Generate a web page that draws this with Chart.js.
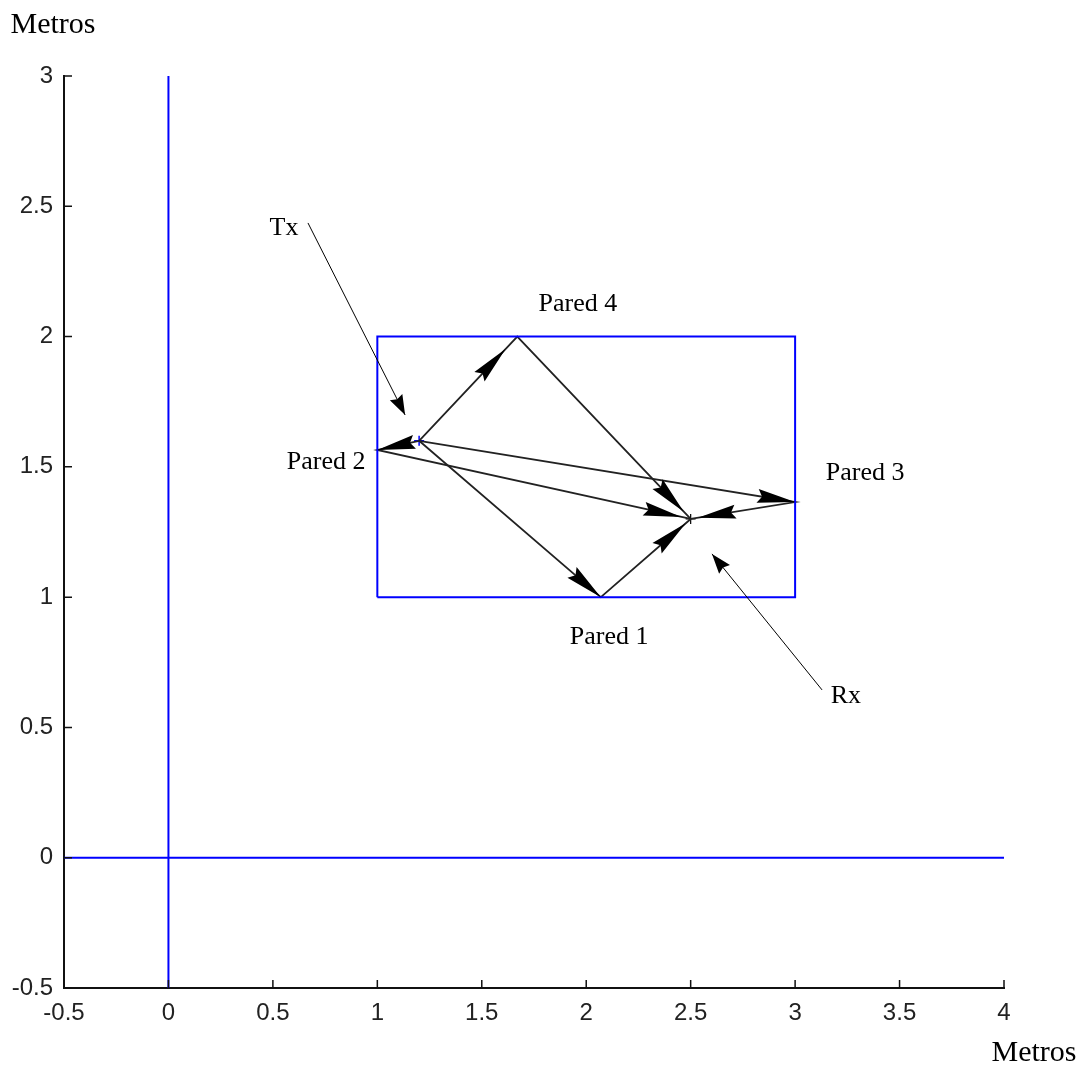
<!DOCTYPE html>
<html>
<head>
<meta charset="utf-8">
<script src="https://cdn.jsdelivr.net/npm/chart.js@4/dist/chart.umd.min.js"></script>
<style>
  html, body { margin: 0; background: #fff; }
</style>
</head>
<body>
<canvas id="c" width="1088" height="1066"></canvas>
<script>
// ---- datos ----
const xTicks = [-0.5, 0, 0.5, 1, 1.5, 2, 2.5, 3, 3.5, 4];
const yTicks = [-0.5, 0, 0.5, 1, 1.5, 2, 2.5, 3];

const salaX = [1, 3, 3, 1, 1];
const salaY = [1, 1, 2, 2, 1];

const txPos = [1.2, 1.6];
const rxPos = [2.5, 1.3];

const paredNombres = ['Pared 1', 'Pared 2', 'Pared 3', 'Pared 4'];
const reboteX = [2.07, 1.0, 3.0, 1.67];
const reboteY = [1.0, 1.565, 1.365, 2.0];
// fracción del tramo donde queda la punta de cada flecha
const flechaIda = [1.0, 1.0, 1.0, 0.88];
const flechaVuelta = [0.945, 0.97, 0.93, 0.96];
const etiquetaX = [2.11, 0.755, 3.335, 1.96];
const etiquetaY = [0.847, 1.519, 1.476, 2.125];

const notaTexto = ['Tx', 'Rx'];
const notaTextoX = [0.553, 3.243];
const notaTextoY = [2.417, 0.621];
const notaDesdeX = [0.668, 3.129];
const notaDesdeY = [2.436, 0.644];
const notaHastaX = [1.133, 2.602];
const notaHastaY = [1.699, 1.166];

const AZUL = '#0000ff';
const RAYO = '#222';
const SERIF = "'Liberation Serif', 'Times New Roman', serif";

const pts = (xs, ys) => xs.map((v, i) => ({ x: v, y: ys[i] }));

const linea = (data, color, w) => ({
  data, showLine: true, borderColor: color, borderWidth: w,
  pointRadius: 0, pointHoverRadius: 0, fill: false, tension: 0
});

const datasets = [
  linea(pts([0, 0], [-0.5, 3]), AZUL, 2),
  linea(pts([-0.5, 4], [0, 0]), AZUL, 2),
  linea(pts(salaX, salaY), AZUL, 2),
];
reboteX.forEach((bx, i) => {
  datasets.push(linea(pts([txPos[0], bx, rxPos[0]], [txPos[1], reboteY[i], rxPos[1]]), RAYO, 1.8));
});
datasets.push({ data: [{ x: txPos[0], y: txPos[1] }], pointStyle: 'cross', pointRadius: 5,
  borderColor: AZUL, borderWidth: 1.5, showLine: false });
datasets.push({ data: [{ x: rxPos[0], y: rxPos[1] }], pointStyle: 'cross', pointRadius: 5,
  borderColor: '#000', borderWidth: 1.2, showLine: false });

function punta(ctx, x0, y0, x1, y1, L, w) {
  const d = Math.hypot(x1 - x0, y1 - y0) || 1;
  const ux = (x1 - x0) / d, uy = (y1 - y0) / d;
  const bx = x1 - ux * L, by = y1 - uy * L;
  ctx.beginPath();
  ctx.moveTo(x1, y1);
  ctx.lineTo(bx - uy * w, by + ux * w);
  ctx.lineTo(bx + ux * L * 0.12, by + uy * L * 0.12);
  ctx.lineTo(bx + uy * w, by - ux * w);
  ctx.closePath();
  ctx.fill();
}

const dibujo = {
  id: 'dibujo',
  afterDatasetsDraw(chart) {
    const { ctx, scales: { x, y }, chartArea: a } = chart;
    const px = v => x.getPixelForValue(v), py = v => y.getPixelForValue(v);
    ctx.save();

    // marcas de los ejes hacia dentro
    ctx.strokeStyle = '#111'; ctx.lineWidth = 1.5;
    ctx.beginPath();
    xTicks.forEach(v => { const p = px(v); ctx.moveTo(p, a.bottom); ctx.lineTo(p, a.bottom - 8); });
    yTicks.forEach(v => { const p = py(v); ctx.moveTo(a.left, p); ctx.lineTo(a.left + 8, p); });
    ctx.stroke();

    // puntas de flecha de los rayos
    ctx.fillStyle = '#000';
    reboteX.forEach((bx, i) => {
      const by = reboteY[i];
      const t0x = px(txPos[0]), t0y = py(txPos[1]);
      const wx = px(bx), wy = py(by);
      const rx = px(rxPos[0]), ry = py(rxPos[1]);
      const f = flechaIda[i], g = flechaVuelta[i];
      punta(ctx, t0x, t0y, t0x + (wx - t0x) * f, t0y + (wy - t0y) * f, 38, 7);
      punta(ctx, wx, wy, wx + (rx - wx) * g, wy + (ry - wy) * g, 38, 7);
    });

    // anotaciones Tx / Rx
    ctx.strokeStyle = '#000'; ctx.lineWidth = 1;
    notaTexto.forEach((t, i) => {
      const x0 = px(notaDesdeX[i]), y0 = py(notaDesdeY[i]);
      const x1 = px(notaHastaX[i]), y1 = py(notaHastaY[i]);
      ctx.beginPath(); ctx.moveTo(x0, y0); ctx.lineTo(x1, y1); ctx.stroke();
      punta(ctx, x0, y0, x1, y1, 20, 7);
    });

    // textos
    ctx.fillStyle = '#000';
    ctx.textAlign = 'center'; ctx.textBaseline = 'middle';
    ctx.font = '26px ' + SERIF;
    paredNombres.forEach((t, i) => ctx.fillText(t, px(etiquetaX[i]), py(etiquetaY[i])));
    notaTexto.forEach((t, i) => ctx.fillText(t, px(notaTextoX[i]), py(notaTextoY[i])));

    ctx.font = '30px ' + SERIF;
    ctx.fillText('Metros', 53, 25);
    ctx.fillText('Metros', 1034, 1053);
    ctx.restore();
  }
};

const ejeTicks = {
  font: { family: "'Liberation Sans', Arial, sans-serif", size: 24 },
  color: '#222',
  autoSkip: false,
  maxRotation: 0,
  callback: v => String(v)
};

new Chart(document.getElementById('c'), {
  type: 'scatter',
  data: { datasets },
  options: {
    responsive: false,
    devicePixelRatio: 1,
    animation: false,
    events: [],
    layout: { padding: { top: 76, right: 84, left: 0, bottom: 0 } },
    plugins: { legend: { display: false }, tooltip: { enabled: false } },
    scales: {
      x: {
        type: 'linear', min: -0.5, max: 4,
        afterBuildTicks: s => { s.ticks = xTicks.map(v => ({ value: v })); },
        afterFit: s => { s.height = 78; },
        grid: { display: false, drawTicks: false },
        border: { display: true, color: '#111', width: 2 },
        ticks: { ...ejeTicks, padding: 11 }
      },
      y: {
        type: 'linear', min: -0.5, max: 3,
        afterBuildTicks: s => { s.ticks = yTicks.map(v => ({ value: v })); },
        afterFit: s => { s.width = 64; },
        grid: { display: false, drawTicks: false },
        border: { display: true, color: '#111', width: 2 },
        ticks: { ...ejeTicks, padding: 11 }
      }
    }
  },
  plugins: [dibujo]
});
</script>
</body>
</html>
